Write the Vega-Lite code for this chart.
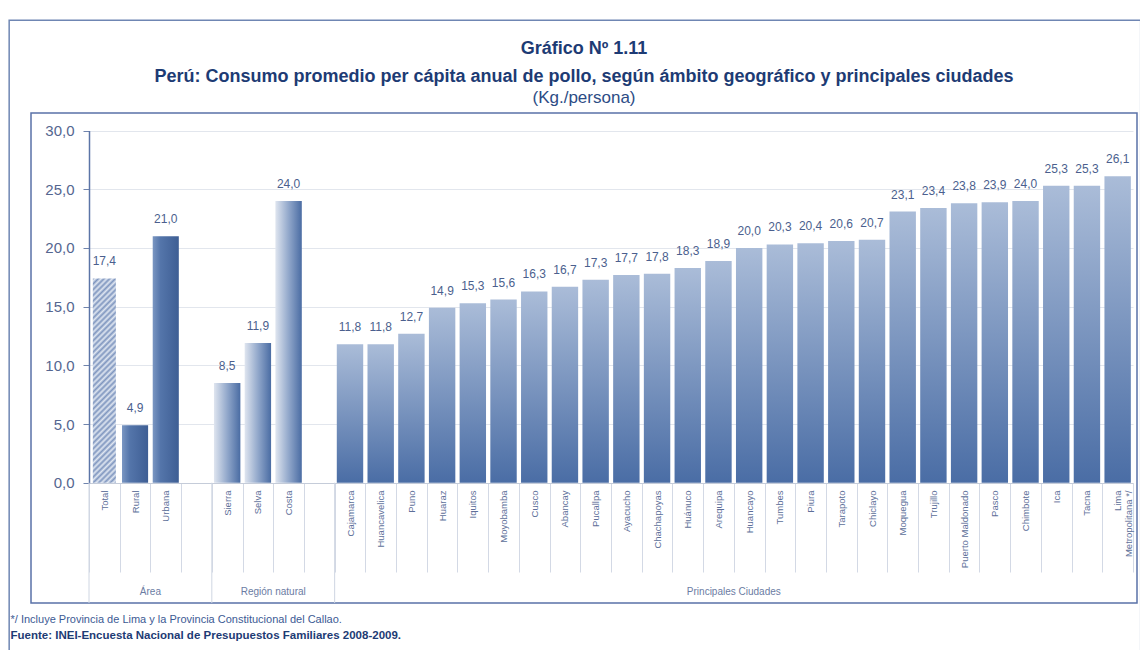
{
  "$schema": "https://vega.github.io/schema/vega-lite/v6.json",
  "width": 1106,
  "height": 490,
  "autosize": "none",
  "padding": {"left": 31, "top": 113, "right": 3, "bottom": 47},
  "background": "white",
  "config": {
    "locale": {"number": {"decimal": ",", "thousands": ".", "grouping": [3], "currency": ["", ""]}},
    "view": {"stroke": "#5a72a8", "strokeWidth": 1.5},
    "font": "Liberation Sans"
  },
  "title": {
    "text": ["Gráfico Nº 1.11", "Perú: Consumo promedio per cápita anual de pollo, según ámbito geográfico y principales ciudades"],
    "subtitle": "(Kg./persona)",
    "anchor": "middle",
    "font": "Liberation Sans",
    "fontSize": 18,
    "fontWeight": "bold",
    "color": "#1d3b74",
    "lineHeight": 28,
    "subtitleFont": "Liberation Sans",
    "subtitleFontSize": 17,
    "subtitleColor": "#2c4c85",
    "subtitlePadding": 4,
    "offset": -86
  },
  "data": {"values": [
      {"cat": "Total", "grupo": "Área", "valor": 17.4},
      {"cat": "Rural", "grupo": "Área", "valor": 4.9},
      {"cat": "Urbana", "grupo": "Área", "valor": 21.0},
      {"cat": "Sierra", "grupo": "Región natural", "valor": 8.5},
      {"cat": "Selva", "grupo": "Región natural", "valor": 11.9},
      {"cat": "Costa", "grupo": "Región natural", "valor": 24.0},
      {"cat": "Cajamarca", "grupo": "Principales Ciudades", "valor": 11.8},
      {"cat": "Huancavelica", "grupo": "Principales Ciudades", "valor": 11.8},
      {"cat": "Puno", "grupo": "Principales Ciudades", "valor": 12.7},
      {"cat": "Huaraz", "grupo": "Principales Ciudades", "valor": 14.9},
      {"cat": "Iquitos", "grupo": "Principales Ciudades", "valor": 15.3},
      {"cat": "Moyobamba", "grupo": "Principales Ciudades", "valor": 15.6},
      {"cat": "Cusco", "grupo": "Principales Ciudades", "valor": 16.3},
      {"cat": "Abancay", "grupo": "Principales Ciudades", "valor": 16.7},
      {"cat": "Pucallpa", "grupo": "Principales Ciudades", "valor": 17.3},
      {"cat": "Ayacucho", "grupo": "Principales Ciudades", "valor": 17.7},
      {"cat": "Chachapoyas", "grupo": "Principales Ciudades", "valor": 17.8},
      {"cat": "Huánuco", "grupo": "Principales Ciudades", "valor": 18.3},
      {"cat": "Arequipa", "grupo": "Principales Ciudades", "valor": 18.9},
      {"cat": "Huancayo", "grupo": "Principales Ciudades", "valor": 20.0},
      {"cat": "Tumbes", "grupo": "Principales Ciudades", "valor": 20.3},
      {"cat": "Piura", "grupo": "Principales Ciudades", "valor": 20.4},
      {"cat": "Tarapoto", "grupo": "Principales Ciudades", "valor": 20.6},
      {"cat": "Chiclayo", "grupo": "Principales Ciudades", "valor": 20.7},
      {"cat": "Moquegua", "grupo": "Principales Ciudades", "valor": 23.1},
      {"cat": "Trujillo", "grupo": "Principales Ciudades", "valor": 23.4},
      {"cat": "Puerto Maldonado", "grupo": "Principales Ciudades", "valor": 23.8},
      {"cat": "Pasco", "grupo": "Principales Ciudades", "valor": 23.9},
      {"cat": "Chimbote", "grupo": "Principales Ciudades", "valor": 24.0},
      {"cat": "Ica", "grupo": "Principales Ciudades", "valor": 25.3},
      {"cat": "Tacna", "grupo": "Principales Ciudades", "valor": 25.3},
      {"cat": "Lima Metropolitana */", "grupo": "Principales Ciudades", "valor": 26.1}
  ]},
  "encoding": {
    "x": {
      "field": "cat",
      "type": "nominal",
      "sort": null,
      "scale": {
        "domain": ["Total", "Rural", "Urbana", "_1", "Sierra", "Selva", "Costa", "_2", "Cajamarca", "Huancavelica", "Puno", "Huaraz", "Iquitos", "Moyobamba", "Cusco", "Abancay", "Pucallpa", "Ayacucho", "Chachapoyas", "Huánuco", "Arequipa", "Huancayo", "Tumbes", "Piura", "Tarapoto", "Chiclayo", "Moquegua", "Trujillo", "Puerto Maldonado", "Pasco", "Chimbote", "Ica", "Tacna", "Lima Metropolitana */"],
        "range": [58, 1102],
        "paddingInner": 0,
        "paddingOuter": 0
      },
      "axis": {
        "orient": "bottom",
        "offset": -120,
        "labelAngle": -90,
        "labelAlign": "right",
        "labelBaseline": "middle",
        "labelFontSize": 9.5,
        "labelColor": "#5d6f99",
        "labelPadding": -82,
        "labelLineHeight": 11,
        "labelExpr": "datum.label == 'Lima Metropolitana */' ? ['Lima', 'Metropolitana */'] : (indexof(datum.label, '_') == 0 ? '' : datum.label)",
        "tickBand": "extent",
        "tickSize": 89,
        "tickColor": "#d3d9e5",
        "domainColor": "#c5ccd9",
        "title": "*/ Incluye Provincia de Lima y la Provincia Constitucional del Callao.",
        "titleX": -21,
        "titleY": 139,
        "titleAlign": "left",
        "titleAngle": 0,
        "titleBaseline": "alphabetic",
        "titleFont": "Liberation Sans",
        "titleFontSize": 11,
        "titleFontWeight": "normal",
        "titleColor": "#3c5a94"
      }
    },
    "y": {
      "field": "valor",
      "type": "quantitative",
      "scale": {"domain": [0, 30], "range": [369.7, 17.6], "nice": false, "zero": true},
      "axis": {
        "orient": "left",
        "offset": -58,
        "values": [0, 5, 10, 15, 20, 25, 30],
        "format": ".1f",
        "labelFontSize": 15,
        "labelColor": "#556690",
        "labelPadding": 9,
        "tickColor": "#7084ad",
        "tickSize": 6,
        "domainColor": "#5b75a7",
        "domainWidth": 1.5,
        "grid": true,
        "gridColor": "#e2e6ed",
        "title": "Fuente: INEI-Encuesta Nacional de Presupuestos Familiares 2008-2009.",
        "titleX": -79,
        "titleY": 525,
        "titleAlign": "left",
        "titleAngle": 0,
        "titleBaseline": "alphabetic",
        "titleFont": "Liberation Sans",
        "titleFontSize": 11.5,
        "titleFontWeight": "bold",
        "titleColor": "#1d3b74"
      }
    }
  },
  "layer": [
    {
      "transform": [{"filter": "datum.cat == 'Total'"}],
      "mark": {
        "type": "bar",
        "width": {"band": 0.75},
        "fill": {
          "gradient": "linear", "x1": 0, "y1": 0, "x2": 0.124, "y2": 1.099,
          "stops": [
            {"offset": 0, "color": "#7f96bf"}, {"offset": 0.0125, "color": "#dfe6f1"},
            {"offset": 0.025, "color": "#7f96bf"}, {"offset": 0.0375, "color": "#dfe6f1"},
            {"offset": 0.05, "color": "#7f96bf"}, {"offset": 0.0625, "color": "#dfe6f1"},
            {"offset": 0.075, "color": "#7f96bf"}, {"offset": 0.0875, "color": "#dfe6f1"},
            {"offset": 0.1, "color": "#7f96bf"}, {"offset": 0.1125, "color": "#dfe6f1"},
            {"offset": 0.125, "color": "#7f96bf"}, {"offset": 0.1375, "color": "#dfe6f1"},
            {"offset": 0.15, "color": "#7f96bf"}, {"offset": 0.1625, "color": "#dfe6f1"},
            {"offset": 0.175, "color": "#7f96bf"}, {"offset": 0.1875, "color": "#dfe6f1"},
            {"offset": 0.2, "color": "#7f96bf"}, {"offset": 0.2125, "color": "#dfe6f1"},
            {"offset": 0.225, "color": "#7f96bf"}, {"offset": 0.2375, "color": "#dfe6f1"},
            {"offset": 0.25, "color": "#7f96bf"}, {"offset": 0.2625, "color": "#dfe6f1"},
            {"offset": 0.275, "color": "#7f96bf"}, {"offset": 0.2875, "color": "#dfe6f1"},
            {"offset": 0.3, "color": "#7f96bf"}, {"offset": 0.3125, "color": "#dfe6f1"},
            {"offset": 0.325, "color": "#7f96bf"}, {"offset": 0.3375, "color": "#dfe6f1"},
            {"offset": 0.35, "color": "#7f96bf"}, {"offset": 0.3625, "color": "#dfe6f1"},
            {"offset": 0.375, "color": "#7f96bf"}, {"offset": 0.3875, "color": "#dfe6f1"},
            {"offset": 0.4, "color": "#7f96bf"}, {"offset": 0.4125, "color": "#dfe6f1"},
            {"offset": 0.425, "color": "#7f96bf"}, {"offset": 0.4375, "color": "#dfe6f1"},
            {"offset": 0.45, "color": "#7f96bf"}, {"offset": 0.4625, "color": "#dfe6f1"},
            {"offset": 0.475, "color": "#7f96bf"}, {"offset": 0.4875, "color": "#dfe6f1"},
            {"offset": 0.5, "color": "#7f96bf"}, {"offset": 0.5125, "color": "#dfe6f1"},
            {"offset": 0.525, "color": "#7f96bf"}, {"offset": 0.5375, "color": "#dfe6f1"},
            {"offset": 0.55, "color": "#7f96bf"}, {"offset": 0.5625, "color": "#dfe6f1"},
            {"offset": 0.575, "color": "#7f96bf"}, {"offset": 0.5875, "color": "#dfe6f1"},
            {"offset": 0.6, "color": "#7f96bf"}, {"offset": 0.6125, "color": "#dfe6f1"},
            {"offset": 0.625, "color": "#7f96bf"}, {"offset": 0.6375, "color": "#dfe6f1"},
            {"offset": 0.65, "color": "#7f96bf"}, {"offset": 0.6625, "color": "#dfe6f1"},
            {"offset": 0.675, "color": "#7f96bf"}, {"offset": 0.6875, "color": "#dfe6f1"},
            {"offset": 0.7, "color": "#7f96bf"}, {"offset": 0.7125, "color": "#dfe6f1"},
            {"offset": 0.725, "color": "#7f96bf"}, {"offset": 0.7375, "color": "#dfe6f1"},
            {"offset": 0.75, "color": "#7f96bf"}, {"offset": 0.7625, "color": "#dfe6f1"},
            {"offset": 0.775, "color": "#7f96bf"}, {"offset": 0.7875, "color": "#dfe6f1"},
            {"offset": 0.8, "color": "#7f96bf"}, {"offset": 0.8125, "color": "#dfe6f1"},
            {"offset": 0.825, "color": "#7f96bf"}, {"offset": 0.8375, "color": "#dfe6f1"},
            {"offset": 0.85, "color": "#7f96bf"}, {"offset": 0.8625, "color": "#dfe6f1"},
            {"offset": 0.875, "color": "#7f96bf"}, {"offset": 0.8875, "color": "#dfe6f1"},
            {"offset": 0.9, "color": "#7f96bf"}, {"offset": 0.9125, "color": "#dfe6f1"},
            {"offset": 0.925, "color": "#7f96bf"}, {"offset": 0.9375, "color": "#dfe6f1"},
            {"offset": 0.95, "color": "#7f96bf"}, {"offset": 0.9625, "color": "#dfe6f1"},
            {"offset": 0.975, "color": "#7f96bf"}, {"offset": 0.9875, "color": "#dfe6f1"},
            {"offset": 1, "color": "#7f96bf"}
          ]
        }
      }
    },
    {
      "transform": [{"filter": "datum.cat == 'Rural' || datum.cat == 'Urbana'"}],
      "mark": {
        "type": "bar",
        "width": {"band": 0.85},
        "fill": {
          "gradient": "linear", "x1": 0, "y1": 0, "x2": 1, "y2": 0,
          "stops": [
            {"offset": 0, "color": "#7a96c2"},
            {"offset": 0.3, "color": "#5475aa"},
            {"offset": 1, "color": "#3e5e94"}
          ]
        }
      }
    },
    {
      "transform": [{"filter": "datum.grupo == 'Región natural'"}],
      "mark": {
        "type": "bar",
        "width": {"band": 0.86},
        "fill": {
          "gradient": "linear", "x1": 0, "y1": 0, "x2": 1, "y2": 0,
          "stops": [
            {"offset": 0, "color": "#dfe5ef"},
            {"offset": 0.5, "color": "#92a8cb"},
            {"offset": 1, "color": "#4a6ca3"}
          ]
        }
      }
    },
    {
      "transform": [{"filter": "datum.grupo == 'Principales Ciudades'"}],
      "mark": {
        "type": "bar",
        "width": {"band": 0.86},
        "fill": {
          "gradient": "linear", "x1": 0, "y1": 0, "x2": 0, "y2": 1,
          "stops": [
            {"offset": 0, "color": "#aabcd8"},
            {"offset": 1, "color": "#4a6da5"}
          ]
        }
      }
    },
    {
      "mark": {"type": "text", "dy": -17, "baseline": "middle", "fontSize": 12, "color": "#4b5f8e"},
      "encoding": {
        "text": {"field": "valor", "type": "quantitative", "format": ".1f"}
      }
    },
    {
      "transform": [{"filter": "datum.cat == 'Total' || datum.cat == 'Sierra' || datum.cat == 'Cajamarca'"}],
      "mark": {"type": "rule", "color": "#cfd6e2", "strokeWidth": 1},
      "encoding": {
        "x": {
          "field": "cat", "type": "nominal", "sort": null, "bandPosition": 0,
          "scale": {
            "domain": ["Total", "Rural", "Urbana", "_1", "Sierra", "Selva", "Costa", "_2", "Cajamarca", "Huancavelica", "Puno", "Huaraz", "Iquitos", "Moyobamba", "Cusco", "Abancay", "Pucallpa", "Ayacucho", "Chachapoyas", "Huánuco", "Arequipa", "Huancayo", "Tumbes", "Piura", "Tarapoto", "Chiclayo", "Moquegua", "Trujillo", "Puerto Maldonado", "Pasco", "Chimbote", "Ica", "Tacna", "Lima Metropolitana */"],
            "range": [58, 1102], "paddingInner": 0, "paddingOuter": 0
          }
        },
        "y": {"datum": 0, "type": "quantitative"},
        "y2": {"datum": -10.25}
      }
    },
    {
      "transform": [{"filter": "datum.cat == 'Rural' || datum.cat == 'Selva' || datum.cat == 'Arequipa'"}],
      "mark": {"type": "text", "fontSize": 10, "color": "#6b7ca3", "baseline": "middle", "align": "center"},
      "encoding": {
        "x": {
          "field": "cat", "type": "nominal", "sort": null, "bandPosition": 1,
          "scale": {
            "domain": ["Total", "Rural", "Urbana", "_1", "Sierra", "Selva", "Costa", "_2", "Cajamarca", "Huancavelica", "Puno", "Huaraz", "Iquitos", "Moyobamba", "Cusco", "Abancay", "Pucallpa", "Ayacucho", "Chachapoyas", "Huánuco", "Arequipa", "Huancayo", "Tumbes", "Piura", "Tarapoto", "Chiclayo", "Moquegua", "Trujillo", "Puerto Maldonado", "Pasco", "Chimbote", "Ica", "Tacna", "Lima Metropolitana */"],
            "range": [58, 1102], "paddingInner": 0, "paddingOuter": 0
          }
        },
        "y": {"datum": -9.3, "type": "quantitative"},
        "text": {"field": "grupo", "type": "nominal"}
      }
    },
    {
      "transform": [{"filter": "datum.cat == 'Total'"}],
      "mark": {"type": "rect", "fillOpacity": 0, "stroke": "#6f86b3", "strokeWidth": 1.5},
      "encoding": {
        "x": {"datum": "Total", "bandPosition": -2.6},
        "x2": {"datum": "Lima Metropolitana */", "bandPosition": 1.25},
        "y": {"datum": 39.4, "type": "quantitative"},
        "y2": {"datum": -15}
      }
    }
  ]
}
